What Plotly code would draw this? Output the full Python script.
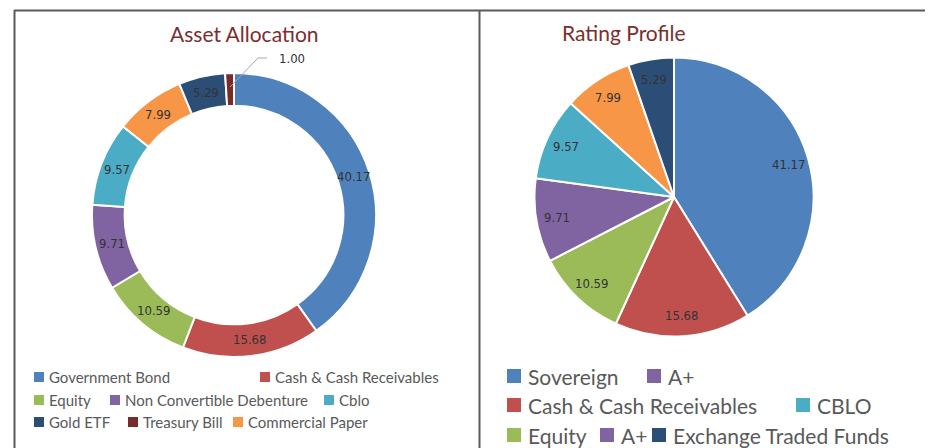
import math
import plotly.graph_objects as go

# The page body has an 8px margin, so the figure is shifted by that amount.
OFF = 8
W, H = 933 - OFF, 448 - OFF

# ---- data ----
asset_labels = ["Government Bond", "Cash & Cash Receivables", "Equity",
                "Non Convertible Debenture", "Cblo", "Commercial Paper",
                "Gold ETF", "Treasury Bill"]
asset_values = [40.17, 15.68, 10.59, 9.71, 9.57, 7.99, 5.29, 1.00]
asset_colors = ["#4F81BD", "#C0504D", "#9BBB59", "#8064A2", "#4BACC6",
                "#F79646", "#2C4D75", "#772C2A"]

rating_labels = ["Sovereign", "Cash & Cash Receivables", "Equity", "A+",
                 "CBLO", "Commercial Paper", "Exchange Traded Funds"]
rating_values = [41.17, 15.68, 10.59, 9.71, 9.57, 7.99, 5.29]
rating_colors = ["#4F81BD", "#C0504D", "#9BBB59", "#8064A2", "#4BACC6",
                 "#F79646", "#2C4D75"]

# legend entries (as displayed in the reference)
asset_legend_rows = [
    [("Government Bond", "#4F81BD", 34), ("Cash & Cash Receivables", "#C0504D", 260)],
    [("Equity", "#9BBB59", 34), ("Non Convertible Debenture", "#8064A2", 110), ("Cblo", "#4BACC6", 324)],
    [("Gold ETF", "#2C4D75", 34), ("Treasury Bill", "#772C2A", 128), ("Commercial Paper", "#F79646", 233)],
]
asset_legend_y = [377, 400, 422]
rating_legend_rows = [
    [("Sovereign", "#4F81BD", 507), ("A+", "#8064A2", 647)],
    [("Cash & Cash Receivables", "#C0504D", 507), ("CBLO", "#4BACC6", 796)],
    [("Equity", "#9BBB59", 507), ("A+", "#8064A2", 600), ("Exchange Traded Funds", "#2C4D75", 652)],
]
rating_legend_y = [376, 405, 435]


def px(x):
    return (x - OFF) / W


def py(y):
    return 1 - (y - OFF) / H


label_font = dict(family="DejaVu Sans Condensed, Liberation Sans Narrow, sans-serif",
                  size=13, color="#333333")

fig = go.Figure()

# geometry (page pixels)
D_CX, D_CY, D_R = 234, 215, 142
P_CX, P_CY, P_R = 674, 197, 139.5

fig.add_trace(go.Pie(
    labels=asset_labels, values=asset_values, hole=0.77, sort=False,
    direction="clockwise", rotation=0,
    marker=dict(colors=asset_colors, line=dict(color="white", width=2)),
    textinfo="none",
    domain=dict(x=[px(D_CX - D_R), px(D_CX + D_R)], y=[py(D_CY + D_R), py(D_CY - D_R)]),
    showlegend=False,
))

fig.add_trace(go.Pie(
    labels=rating_labels, values=rating_values, sort=False,
    direction="clockwise", rotation=0,
    marker=dict(colors=rating_colors, line=dict(color="white", width=2)),
    textinfo="none",
    domain=dict(x=[px(P_CX - P_R), px(P_CX + P_R)], y=[py(P_CY + P_R), py(P_CY - P_R)]),
    showlegend=False,
))

shapes = []
annotations = []


def slice_labels(values, cx, cy, r, skip=()):
    total = sum(values)
    cum = 0.0
    for i, v in enumerate(values):
        mid = (cum + v / 2) / total * 2 * math.pi
        cum += v
        if i in skip:
            continue
        x = cx + r * math.sin(mid)
        y = cy - r * math.cos(mid)
        annotations.append(dict(text=f"{v:.2f}", x=px(x), y=py(y), xref="paper", yref="paper",
                                showarrow=False, xanchor="center", yanchor="middle", font=label_font))


slice_labels(asset_values, D_CX, D_CY, 125.5, skip=(len(asset_values) - 1,))
slice_labels(rating_values, P_CX, P_CY, 119)

# panel borders
line_col = "#5a5a5a"
shapes.append(dict(type="line", xref="paper", yref="paper", x0=px(14), x1=1, y0=py(10.5), y1=py(10.5),
                   line=dict(color=line_col, width=2)))
shapes.append(dict(type="line", xref="paper", yref="paper", x0=px(14.5), x1=px(14.5), y0=py(10), y1=0,
                   line=dict(color=line_col, width=2)))
shapes.append(dict(type="line", xref="paper", yref="paper", x0=px(479.5), x1=px(479.5), y0=py(10), y1=0,
                   line=dict(color=line_col, width=2)))

# titles
title_font = dict(family="Lato, Open Sans, sans-serif", size=21, color="#7B2E2E")
annotations.append(dict(text="Asset Allocation", x=px(244), y=py(34), xref="paper", yref="paper",
                        showarrow=False, font=title_font, xanchor="center", yanchor="middle"))
annotations.append(dict(text="Rating Profile", x=px(624), y=py(33), xref="paper", yref="paper",
                        showarrow=False, font=title_font, xanchor="center", yanchor="middle"))

# leader line for the small Treasury Bill slice
shapes.append(dict(type="path", xref="paper", yref="paper",
                   path=f"M {px(230)} {py(87)} L {px(258)} {py(58)} L {px(267)} {py(58)}",
                   line=dict(color="#a6a6a6", width=1)))
annotations.append(dict(text=f"{asset_values[-1]:.2f}", x=px(277), y=py(58), xref="paper", yref="paper",
                        showarrow=False, font=label_font, xanchor="left", yanchor="middle"))


def add_legend(rows, ys, sq, gap, fsize):
    for row, yc in zip(rows, ys):
        for name, col, x0 in row:
            shapes.append(dict(type="rect", xref="paper", yref="paper",
                               x0=px(x0), x1=px(x0 + sq), y0=py(yc - sq / 2), y1=py(yc + sq / 2),
                               fillcolor=col, line=dict(width=0)))
            annotations.append(dict(text=name, x=px(x0 + sq + gap), y=py(yc), xref="paper", yref="paper",
                                    showarrow=False, xanchor="left", yanchor="middle",
                                    font=dict(family="Lato, Open Sans, sans-serif", size=fsize, color="#595959")))


add_legend(asset_legend_rows, asset_legend_y, 10, 3, 15)
add_legend(rating_legend_rows, rating_legend_y, 14, 5, 21)

fig.update_layout(
    width=W, height=H, margin=dict(l=0, r=0, t=0, b=0),
    paper_bgcolor="white", plot_bgcolor="white",
    shapes=shapes, annotations=annotations,
)

fig.write_html("out.html")
